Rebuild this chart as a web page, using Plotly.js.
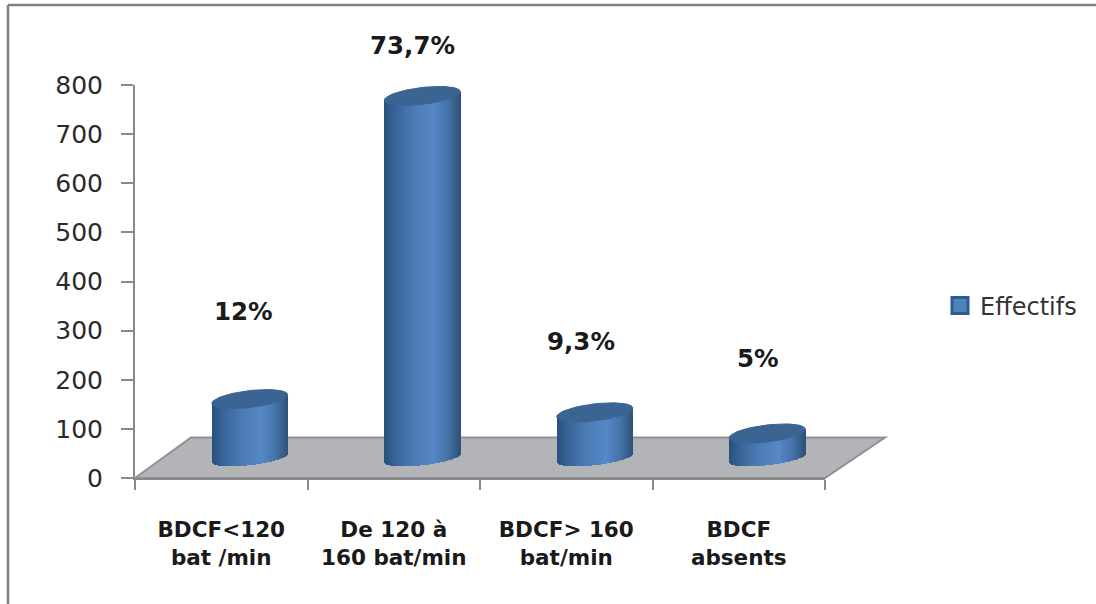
<!DOCTYPE html>
<html>
<head>
<meta charset="utf-8">
<script src="https://cdn.plot.ly/plotly-3.0.1.min.js"></script>
<style>html,body{margin:0;padding:0;background:#fff}#chart{width:1096px;height:604px}</style>
</head>
<body>
<div id="chart"></div>
<script>
// Foetal heart-rate groups and their head counts
const categories = ['BDCF<120<br>bat /min', 'De 120 à<br>160 bat/min', 'BDCF> 160<br>bat/min', 'BDCF<br>absents'];
const effectifs = [120, 737, 93, 50];
const percentLabels = ['12%', '73,7%', '9,3%', '5%'];
const yTicks = [0, 100, 200, 300, 400, 500, 600, 700, 800];
const seriesName = 'Effectifs';

// Page pixel positions of the percentage captions
const labelPixelX = [243, 412, 581, 758];
const labelPixelY = [311, 46, 341, 358];

// Plot frame in page pixels
const W = 1096, H = 604;
const left = 135, right = 825, top_ = 85, bottom = 478;
const plotW = right - left, plotH = bottom - top_;
const px = x => (x - left) / plotW;
const py = y => (bottom - y) / plotH;
const pxPerUnit = plotH / 800;
const pxPerCat = plotW / categories.length;

// Depth shift of the bars relative to the front plane
const depthX = 28.5, depthY = 20;

// Cylinder geometry in pixels
const radius = 38, tilt = 4.3, capHalf = 8.5, baseHalf = 7.2, strips = 76;

const catIndex = categories.map((_, i) => i);

function mix(a, b, t) {
  return a.map((v, i) => Math.round(v + (b[i] - v) * t));
}
// Horizontal shading of the cylinder wall, u from -1 to 1
const shadeStops = [
  [-1, [40, 80, 124]], [-0.7, [56, 100, 152]], [-0.2, [76, 124, 182]],
  [0.3, [86, 136, 200]], [0.65, [70, 116, 170]], [1, [44, 82, 122]]
];
function shade(u) {
  for (let i = 1; i < shadeStops.length; i++) {
    if (u <= shadeStops[i][0]) {
      const [u0, c0] = shadeStops[i - 1], [u1, c1] = shadeStops[i];
      const c = mix(c0, c1, (u - u0) / (u1 - u0));
      return `rgb(${c[0]},${c[1]},${c[2]})`;
    }
  }
  return 'rgb(44,82,122)';
}

const traces = [];

// Carries the category axis and the legend entry
traces.push({
  type: 'scatter', mode: 'markers', name: seriesName,
  x: categories, y: categories.map(() => null), xaxis: 'x', yaxis: 'y',
  marker: { symbol: 'square', size: 16, color: '#4f81bd', line: { color: '#2c5b92', width: 3 } },
  hoverinfo: 'skip', showlegend: true
});

// Each cylinder wall is a stack of narrow bars following the tilted ellipses
for (let s = 0; s < strips; s++) {
  const uL = -1 + 2 * s / strips;
  const u = uL + 1 / strips;
  const rise = tilt * u / pxPerUnit;
  const low = baseHalf * Math.sqrt(Math.max(0, 1 - u * u)) / pxPerUnit;
  const base = rise - low;
  traces.push({
    type: 'bar', xaxis: 'x2', yaxis: 'y2', showlegend: false, hoverinfo: 'skip',
    x: catIndex,
    y: effectifs.map(v => v + rise - base),
    base: effectifs.map(() => base),
    offset: uL * radius / pxPerCat,
    width: (2 * radius / strips + 0.5) / pxPerCat,
    marker: { color: shade(u), line: { width: 0 } }
  });
}

// Dark elliptical caps on top of the cylinders
effectifs.forEach((v, i) => {
  const xs = [], ys = [];
  for (let a = 0; a <= 72; a++) {
    const t = a / 72 * 2 * Math.PI;
    xs.push(i + Math.cos(t) * radius / pxPerCat);
    ys.push(v + (tilt * Math.cos(t) + capHalf * Math.sin(t)) / pxPerUnit);
  }
  traces.push({
    type: 'scatter', mode: 'lines', xaxis: 'x2', yaxis: 'y2', showlegend: false, hoverinfo: 'skip',
    x: xs, y: ys, fill: 'toself', fillcolor: '#3a6492', line: { color: '#3a6492', width: 1 }
  });
});

const axisGray = '#8a8a8a';
const floorPath = [[left, bottom], [191, 437.5], [885, 437.5], [right, bottom]]
  .map((p, i) => `${i ? 'L' : 'M'}${px(p[0])},${py(p[1])}`).join(' ') + ' Z';

const layout = {
  width: W, height: H,
  margin: { l: left, r: W - right, t: top_, b: H - bottom, pad: 0 },
  paper_bgcolor: '#fff', plot_bgcolor: 'rgba(0,0,0,0)',
  barmode: 'overlay', bargap: 0,
  font: { family: '"DejaVu Sans", sans-serif', color: '#222' },
  xaxis: {
    type: 'category', categoryorder: 'array', categoryarray: categories, range: [-0.5, 3.5],
    tickson: 'boundaries', ticks: 'outside', ticklen: 10, tickwidth: 2, tickcolor: axisGray,
    showline: true, linecolor: axisGray, linewidth: 2, showgrid: false, zeroline: false,
    tickangle: 0, ticklabelstandoff: 31, fixedrange: true,
    tickfont: { family: '"DejaVu Sans", sans-serif', size: 21.5, color: '#1a1a1a', weight: 'bold' }
  },
  yaxis: {
    range: [0, 800], tickmode: 'array', tickvals: yTicks, ticks: 'outside', ticklen: 12,
    tickwidth: 2, tickcolor: axisGray, showline: true, linecolor: axisGray, linewidth: 2,
    showgrid: false, zeroline: false, ticklabelstandoff: 13, fixedrange: true,
    tickfont: { family: '"DejaVu Sans", sans-serif', size: 25, color: '#2a2a2a' }
  },
  // Hidden axes shifted into the chart's depth: the bars stand behind the front plane
  xaxis2: {
    overlaying: 'x', anchor: 'y2', visible: false, fixedrange: true,
    range: [-0.5 - depthX / pxPerCat, 3.5 - depthX / pxPerCat]
  },
  yaxis2: {
    overlaying: 'y', anchor: 'x2', visible: false, fixedrange: true,
    range: [-depthY / pxPerUnit, 800 - depthY / pxPerUnit]
  },
  legend: {
    x: px(940), y: py(306), xanchor: 'left', yanchor: 'middle',
    font: { family: '"DejaVu Sans", sans-serif', size: 24, color: '#333' },
    itemwidth: 30, bgcolor: 'rgba(0,0,0,0)', borderwidth: 0
  },
  shapes: [
    // Chart floor
    { type: 'path', xref: 'paper', yref: 'paper', layer: 'below', path: floorPath,
      fillcolor: '#b2b4b7', line: { color: '#8e9093', width: 2 } },
    // Outer frame of the chart area
    { type: 'line', xref: 'paper', yref: 'paper', x0: px(8), x1: px(8), y0: py(5), y1: py(604),
      line: { color: '#808080', width: 2.5 } },
    { type: 'line', xref: 'paper', yref: 'paper', x0: px(8), x1: px(1096), y0: py(5), y1: py(5),
      line: { color: '#808080', width: 2.5 } }
  ],
  annotations: percentLabels.map((text, i) => ({
    text, xref: 'paper', yref: 'paper', x: px(labelPixelX[i]), y: py(labelPixelY[i]),
    xanchor: 'center', yanchor: 'middle', showarrow: false,
    font: { family: '"DejaVu Sans", sans-serif', size: 24.5, color: '#1a1a1a', weight: 'bold' }
  }))
};

Plotly.newPlot('chart', traces, layout, { displayModeBar: false, staticPlot: true });
</script>
</body>
</html>
